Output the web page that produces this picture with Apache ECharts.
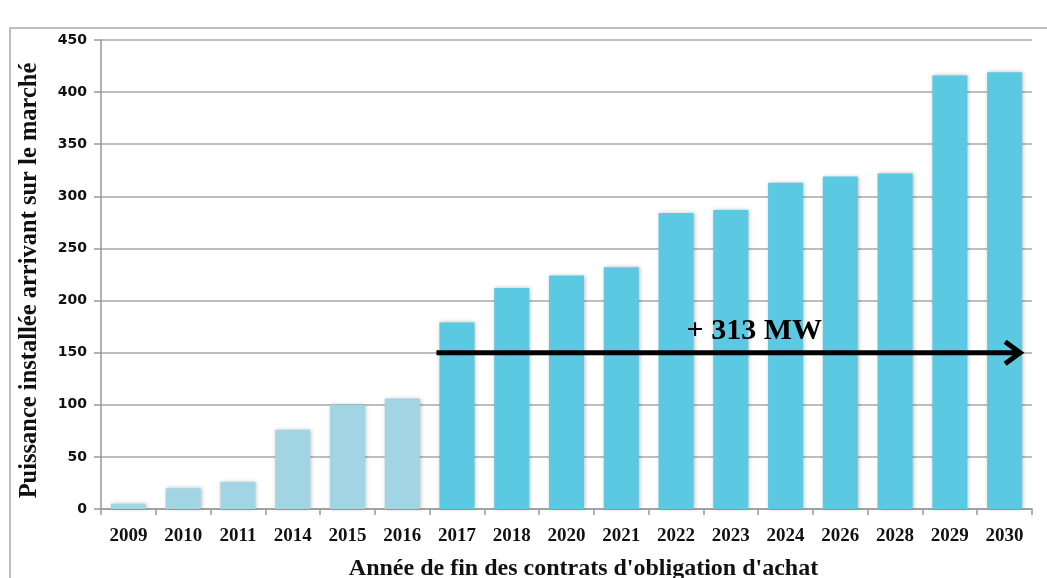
<!DOCTYPE html>
<html><head><meta charset="utf-8">
<script src="https://cdn.jsdelivr.net/npm/echarts@6/dist/echarts.min.js"></script>
<style>html,body{margin:0;padding:0;background:#fff}#c{width:1047px;height:578px}</style>
</head><body><div id="c"></div>
<script>
const years = ['2009','2010','2011','2014','2015','2016','2017','2018','2020','2021','2022','2023','2024','2026','2028','2029','2030'];
const values = [5, 20, 26, 76, 100, 106, 179, 212, 224, 232, 284, 287, 313, 319, 322, 416, 419];
const lightCount = 6;
const yTicks = [0, 450, 50];
const arrowLabel = '+ 313 MW';
const arrowValue = 150;
const arrowFrom = '2017', arrowTo = '2030';

const chart = echarts.init(document.getElementById('c'));
const serif = '"Liberation Serif", "DejaVu Serif", serif';
const barData = values.map((v, i) => ({
  value: v,
  itemStyle: { color: i < lightCount ? '#A1D5E3' : '#5BC9E2' }
}));
chart.setOption({
  animation: false,
  grid: { left: 101, right: 15, top: 40, bottom: 69, outerBoundsMode: 'none', containLabel: false },
  xAxis: {
    type: 'category', data: years,
    axisLine: { lineStyle: { color: '#999', width: 1.5 } },
    axisTick: { show: true, alignWithLabel: false, length: 6, lineStyle: { color: '#999', width: 1.5 } },
    axisLabel: { color: '#111', fontFamily: serif, fontWeight: 'bold', fontSize: 19, margin: 18 },
    name: "Année de fin des contrats d'obligation d'achat",
    nameLocation: 'middle', nameGap: 48,
    nameTextStyle: { color: '#111', fontFamily: serif, fontWeight: 'bold', fontSize: 24, padding: [0, 0, 0, 34] }
  },
  yAxis: {
    type: 'value', min: yTicks[0], max: yTicks[1], interval: yTicks[2],
    axisLine: { show: true, lineStyle: { color: '#999', width: 1.5 } },
    axisTick: { show: true, length: 7, lineStyle: { color: '#999', width: 1.5 } },
    splitLine: { lineStyle: { color: '#a8a8a8', width: 1.5 } },
    axisLabel: { color: '#111', fontFamily: '"DejaVu Sans", sans-serif', fontWeight: 'bold', fontSize: 14, margin: 14 },
    name: 'Puissance installée arrivant sur le marché',
    nameLocation: 'middle', nameGap: 59, nameRotate: 90,
    nameTextStyle: { color: '#111', fontFamily: serif, fontWeight: 'bold', fontSize: 24.5, padding: [0, 12, 0, 0] }
  },
  series: [{
    type: 'bar', data: barData, barWidth: '64%',
    itemStyle: { shadowBlur: 4, shadowColor: 'rgba(0,0,0,0.25)', shadowOffsetX: 1, shadowOffsetY: 0 }
  }]
});

function drawArrow() {
  const p1 = chart.convertToPixel({ gridIndex: 0 }, [arrowFrom, arrowValue]);
  const p2 = chart.convertToPixel({ gridIndex: 0 }, [arrowTo, arrowValue]);
  const catW = chart.convertToPixel({ gridIndex: 0 }, ['2010', 0])[0] - chart.convertToPixel({ gridIndex: 0 }, ['2009', 0])[0];
  const half = catW * 0.32;
  const x1 = p1[0] - half - 3, x2 = p2[0] + half, y = p1[1];
  const mid = (x1 + x2) / 2;
  chart.setOption({
    graphic: [
      { type: 'rect', shape: { x: 10, y: 28, width: 1100, height: 600 }, style: { fill: 'none', stroke: '#bdbdbd', lineWidth: 2 }, silent: true, z: 0 },
      { type: 'line', shape: { x1: x1, y1: y, x2: x2 - 4, y2: y }, style: { stroke: '#000', lineWidth: 5 }, z: 100 },
      { type: 'polyline', shape: { points: [[x2 - 17, y - 11], [x2 - 2, y], [x2 - 17, y + 11]] }, style: { stroke: '#000', lineWidth: 5, fill: 'none', lineJoin: 'miter' }, z: 100 },
      { type: 'text', x: mid + 25, y: y - 21, style: { text: arrowLabel, fill: '#000', font: 'bold 30px ' + serif, textAlign: 'center', textVerticalAlign: 'middle' }, z: 100 }
    ]
  });
}
drawArrow();
</script></body></html>
